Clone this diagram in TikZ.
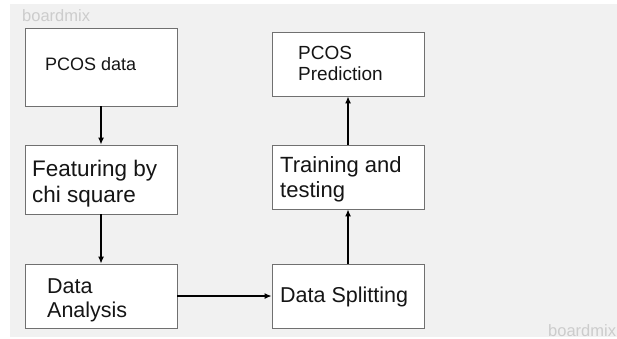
\documentclass[tikz,border=0pt]{standalone}
\usepackage{fontspec}
\setmainfont{Liberation Sans}
\usetikzlibrary{arrows.meta}
\definecolor{fond}{HTML}{F1F1F1}
\definecolor{bord}{HTML}{707070}
\definecolor{encre}{HTML}{151515}
\definecolor{filigrane}{HTML}{CCCCCC}
\begin{document}
\begin{tikzpicture}[x=1pt, y=-1pt]
	\tikzset{boite/.style={rectangle, draw=bord, fill=white, line width=0.9pt, inner sep=0pt, minimum width=152pt},
		etiq/.style={anchor=base west, align=left, inner sep=0pt, text=encre},
		marque/.style={text=filigrane, font=\fontsize{16.5}{17}\selectfont, anchor=west, inner sep=0pt},
		fleche/.style={-{Latex[length=7pt,width=6pt]}, line width=1.2pt, black}};

	\useasboundingbox (0,0) rectangle (617,339);
	\fill[fond] (10,4) rectangle (617,337);
	\node[marque] (marque1) at (22,16) {boardmix};
	\node[marque] (marque2) at (548,331) {boardmix};

	% les boites
	\foreach \nom/\x/\y/\h in {donnees/101/67/78, chi/101/179.5/69, analyse/101/296/64,
		partage/348/296/64, entrain/348/177/64, predit/348/64/64}{
		\node[boite, minimum height=\h pt] (\nom) at (\x,\y) {};
	}

	% textes (base = derniere ligne)
	\node[etiq, font=\fontsize{18}{22}\selectfont] (t-donnees) at (45,71) {PCOS data};
	\node[etiq, font=\fontsize{22.5}{26}\selectfont] (t-chi) at (32,202) {Featuring by\\chi square};
	\node[etiq, font=\fontsize{21.5}{24}\selectfont] (t-analyse) at (47,317) {Data\\Analysis};
	\node[etiq, font=\fontsize{21.5}{24}\selectfont] (t-partage) at (280,302) {Data Splitting};
	\node[etiq, font=\fontsize{22}{25}\selectfont] (t-entrain) at (280,197) {Training and\\testing};
	\node[etiq, font=\fontsize{19}{21}\selectfont] (t-predit) at (298,81) {PCOS\\Prediction};

	\draw[fleche] (donnees) -- (chi);
	\draw[fleche] (chi) -- (analyse);
	\draw[fleche] (analyse) -- (partage);
	\draw[fleche] (partage) -- (entrain);
	\draw[fleche] (entrain) -- (predit);
\end{tikzpicture}
\end{document}
